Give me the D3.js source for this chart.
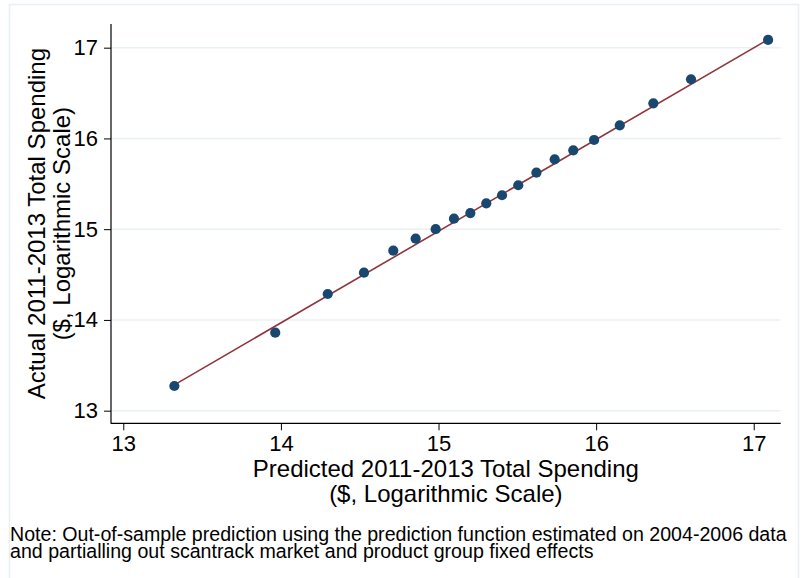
<!DOCTYPE html>
<html>
<head>
<meta charset="utf-8">
<script src="https://cdn.jsdelivr.net/npm/d3@7"></script>
<style>
  html, body { margin: 0; padding: 0; background: #fff; }
  svg text { font-family: "Liberation Sans", Arial, Helvetica, sans-serif; fill: #000; }
</style>
</head>
<body>
<svg id="chart" width="801" height="578"></svg>
<script>
// ---- data ----
const predicted = [13.324, 13.964, 14.297, 14.527, 14.713, 14.855, 14.982, 15.098, 15.202, 15.303,
                   15.403, 15.506, 15.621, 15.737, 15.855, 15.987, 16.150, 16.363, 16.602, 17.091];
const actual    = [13.272, 13.860, 14.286, 14.521, 14.763, 14.895, 15.000, 15.116, 15.178, 15.285,
                   15.374, 15.484, 15.623, 15.770, 15.869, 15.983, 16.145, 16.387, 16.652, 17.085];
const fitX = [13.324, 17.091];
const fitY = [13.285, 17.090];
const xTicks = [13, 14, 15, 16, 17];
const yTicks = [13, 14, 15, 16, 17];
const xTitle = ["Predicted 2011-2013 Total Spending", "($, Logarithmic Scale)"];
const yTitle = ["Actual 2011-2013 Total Spending", "($, Logarithmic Scale)"];
const noteLines = ["Note: Out-of-sample prediction using the prediction function estimated on 2004-2006 data",
                   "and partialling out scantrack market and product group fixed effects"];

// ---- layout ----
const svg = d3.select("#chart");
const L = 111, R = 780.7, T = 24, B = 423.3;
const x = d3.scaleLinear().domain([12.922, 17.171]).range([L, R]);
const y = d3.scaleLinear().domain([12.861, 17.261]).range([B, T]);

// outer frame
svg.append("rect").attr("x", 9.5).attr("y", 4.5).attr("width", 789).attr("height", 590)
  .attr("fill", "#fff").attr("stroke", "#e9f0f3").attr("stroke-width", 1.5);

// gridlines
svg.append("g").selectAll("line").data(yTicks).join("line")
  .attr("x1", L).attr("x2", R)
  .attr("y1", d => y(d)).attr("y2", d => y(d))
  .attr("stroke", "#eaf1f4").attr("stroke-width", 1.6);

// axes
const fs = 22;
const yAxis = svg.append("g").attr("transform", `translate(${L},0)`)
  .call(d3.axisLeft(y).tickValues(yTicks).tickSize(7).tickPadding(6).tickFormat(d3.format("d")));
const xAxis = svg.append("g").attr("transform", `translate(0,${B})`)
  .call(d3.axisBottom(x).tickValues(xTicks).tickSize(7).tickPadding(5).tickFormat(d3.format("d")));
[yAxis, xAxis].forEach(g => {
  g.select(".domain").remove();
  g.selectAll(".tick line").attr("stroke", "#000").attr("stroke-width", 1);
  g.selectAll(".tick text").attr("font-size", fs).attr("font-family", "Liberation Sans, Arial, sans-serif").attr("fill", "#000");
});
// axis lines
svg.append("line").attr("x1", L).attr("x2", L).attr("y1", T).attr("y2", B + 0.5)
  .attr("stroke", "#000").attr("stroke-width", 1.2);
svg.append("line").attr("x1", L).attr("x2", R).attr("y1", B).attr("y2", B)
  .attr("stroke", "#000").attr("stroke-width", 1.2);

// fit line
svg.append("path")
  .datum(fitX.map((v, i) => [v, fitY[i]]))
  .attr("d", d3.line().x(d => x(d[0])).y(d => y(d[1])))
  .attr("fill", "none").attr("stroke", "#90353b").attr("stroke-width", 1.6);

// points
svg.append("g").selectAll("circle").data(predicted.map((v, i) => [v, actual[i]])).join("circle")
  .attr("cx", d => x(d[0])).attr("cy", d => y(d[1])).attr("r", 5.1)
  .attr("fill", "#1a476f");

// axis titles
const tfs = 24;
const cx = (L + R) / 2, cy = (T + B) / 2;
svg.append("g").selectAll("text").data(xTitle).join("text")
  .attr("x", cx).attr("y", (d, i) => 477 + i * 25)
  .attr("text-anchor", "middle").attr("font-size", tfs).text(d => d);
svg.append("g").attr("transform", `translate(0,${cy}) rotate(-90)`)
  .selectAll("text").data(yTitle).join("text")
  .attr("x", 0).attr("y", (d, i) => 45 + i * 25)
  .attr("text-anchor", "middle").attr("font-size", tfs).text(d => d);

// note
svg.append("g").selectAll("text").data(noteLines).join("text")
  .attr("x", 10).attr("y", (d, i) => 541 + i * 17)
  .attr("font-size", 19.6).text(d => d);
</script>
</body>
</html>
